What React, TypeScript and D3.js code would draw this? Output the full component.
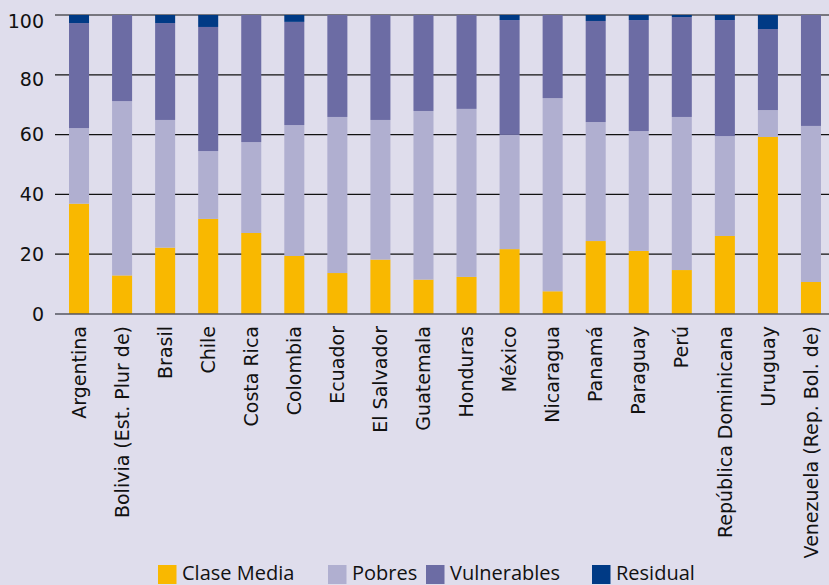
import React from "react";
import * as d3 from "d3";

const countries = [
  "Argentina", "Bolivia (Est. Plur de)", "Brasil", "Chile", "Costa Rica", "Colombia",
  "Ecuador", "El Salvador", "Guatemala", "Honduras", "México", "Nicaragua",
  "Panamá", "Paraguay", "Perú", "República Dominicana", "Uruguay", "Venezuela (Rep. Bol. de)",
];
const claseMedia = [36.9, 12.9, 22.2, 31.8, 27.1, 19.4, 13.7, 18.2, 11.5, 12.4, 21.7, 7.6, 24.4, 21.1, 14.7, 26.1, 59.2, 10.7];
const pobres = [25.3, 58.3, 42.7, 22.7, 30.4, 43.8, 52.2, 46.7, 56.4, 56.2, 38.2, 64.6, 39.8, 40.1, 51.2, 33.4, 9.0, 52.2];
const vulnerables = [35.1, 28.8, 32.4, 41.5, 42.5, 34.5, 34.1, 35.1, 32.1, 31.4, 38.4, 27.8, 33.8, 37.1, 33.4, 38.8, 27.1, 37.1];
const residual = [2.7, 0, 2.7, 4.0, 0, 2.3, 0, 0, 0, 0, 1.7, 0, 2.0, 1.7, 0.7, 1.7, 4.7, 0];
const yTicks = [0, 20, 40, 60, 80, 100];

const seriesNames = ["Clase Media", "Pobres", "Vulnerables", "Residual"];
const seriesValues = [claseMedia, pobres, vulnerables, residual];
const colors = ["#f9b800", "#b0afd0", "#6c6ca4", "#003a85"];

export default function App() {
  const W = 829, H = 585;
  const x = d3.scaleBand<string>().domain(countries).range([57.5, 832.5]).paddingInner(23 / 43).paddingOuter(23 / 86);
  const y = d3.scaleLinear().domain([0, 100]).range([314, 15]);

  const rows = countries.map((c, i) => {
    const r: any = { country: c };
    seriesNames.forEach((s, k) => (r[s] = seriesValues[k][i]));
    return r;
  });
  const stacked = d3.stack().keys(seriesNames)(rows as any);

  const legendX = [158, 328, 426, 592];

  return (
    <svg width={W} height={H} style={{ position: "absolute", left: 0, top: 0, display: "block" }}>
      <rect x={0} y={0} width={W} height={H} fill="#dfddec" />
      {yTicks.filter((t) => t > 0).map((t) => (
        <line key={t} x1={55} x2={829} y1={y(t)} y2={y(t)} stroke="#111" strokeWidth={1.2} />
      ))}
      {stacked.map((layer, k) => (
        <g key={k} fill={colors[k]}>
          {layer.map((d, i) => (
            d[1] - d[0] > 0 ? (
              <rect key={i} x={x(countries[i])} width={x.bandwidth()} y={y(d[1])} height={y(d[0]) - y(d[1])} />
            ) : null
          ))}
        </g>
      ))}
      <line x1={55} x2={829} y1={y(0)} y2={y(0)} stroke="#555560" strokeWidth={1.6} />
      {yTicks.map((t) => (
        <text key={t} x={44} y={y(t)} dy={t === 100 ? "0.7em" : t === 80 ? "0.6em" : "0.36em"} textAnchor="end" fontFamily="DejaVu Sans" fontSize={19} fill="#111">
          {t}
        </text>
      ))}
      {countries.map((c) => {
        const cx = (x(c) as number) + x.bandwidth() / 2;
        return (
          <text key={c} transform={`translate(${cx},326) rotate(-90)`} dy="0.35em" textAnchor="end" fontFamily="DejaVu Sans" fontSize={19} fill="#111">
            {c}
          </text>
        );
      })}
      {seriesNames.map((s, k) => (
        <g key={s}>
          <rect x={legendX[k]} y={565} width={18.5} height={19} fill={colors[k]} />
          <text x={legendX[k] + 24} y={580} fontFamily="Open Sans" fontSize={20} fill="#111">{s}</text>
        </g>
      ))}
    </svg>
  );
}
